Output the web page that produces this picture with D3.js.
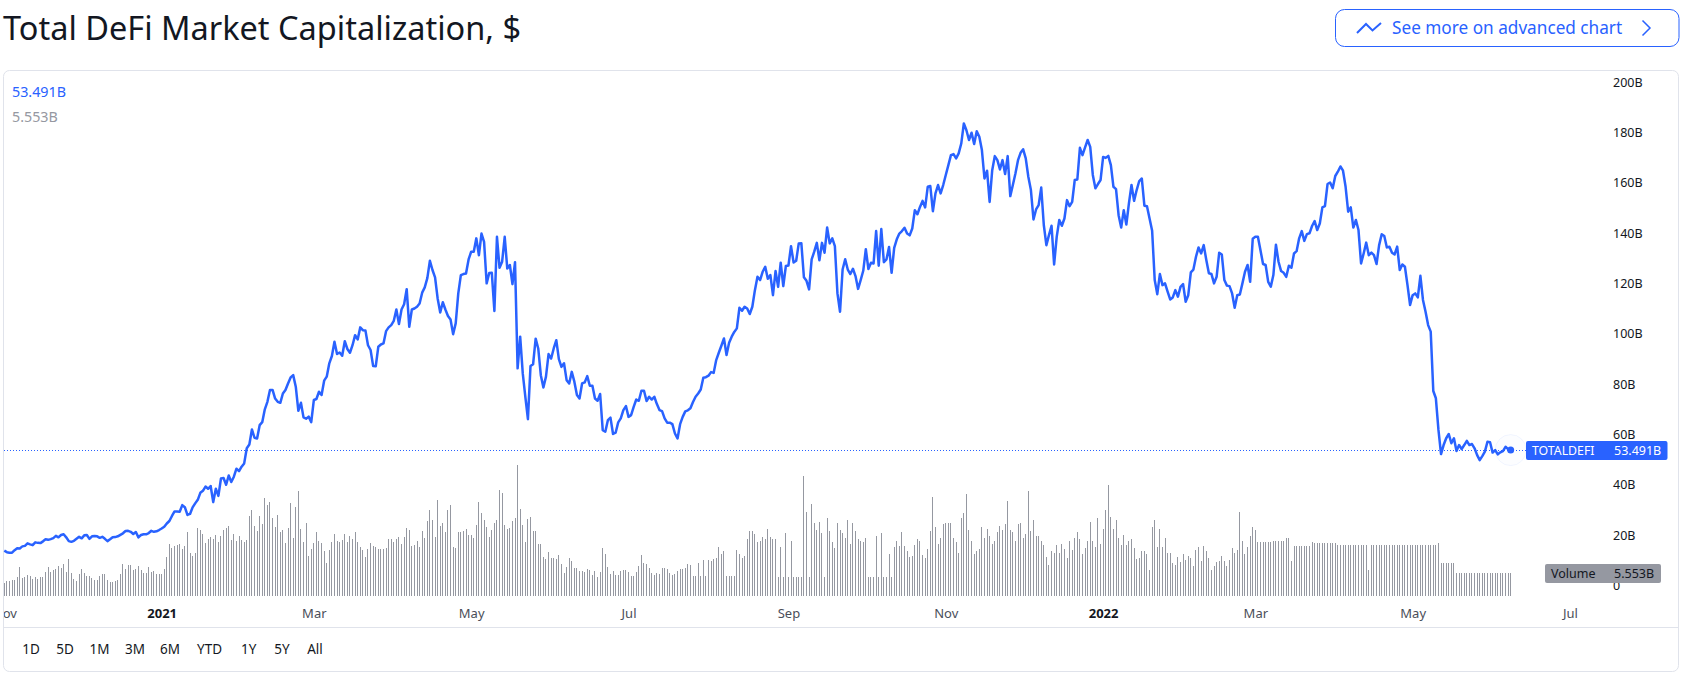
<!DOCTYPE html>
<html>
<head>
<meta charset="utf-8">
<title>Total DeFi Market Capitalization</title>
<script src="https://cdn.jsdelivr.net/npm/d3@7/dist/d3.min.js"></script>
<style>
html,body{margin:0;padding:0;background:#fff;overflow:hidden}
svg{display:block}
text{font-family:"Noto Sans",sans-serif}
</style>
</head>
<body>
<svg id="chart" width="1685" height="679"></svg>
<script>
// Data: daily, starting 2020-11-01, values in billions of dollars
const startDate = "2020-11-01";
const marketCap = [
13.5,12.9,12.7,12.7,13.7,14.5,14.4,15.2,15.4,16.4,
16.0,15.7,16.8,16.6,16.5,17.2,18.0,17.8,18.1,18.5,
19.4,18.8,19.7,20.0,18.8,17.3,17.0,17.4,18.2,19.0,
18.4,19.6,19.7,18.2,19.2,19.3,19.2,18.6,19.0,18.2,
17.3,18.0,18.8,18.9,19.2,19.8,20.4,21.3,21.4,21.0,
20.1,20.9,18.8,19.7,20.0,20.0,20.5,21.4,21.0,21.2,
21.7,22.3,23.0,24.3,25.3,27.3,29.1,29.1,29.0,31.6,
30.8,27.7,28.1,30.7,32.3,33.7,36.5,37.3,39.0,38.1,
39.2,32.8,38.1,35.3,42.2,42.4,39.7,43.4,40.8,42.9,
46.1,45.1,46.9,48.2,54.2,55.7,61.7,58.4,58.1,63.4,
64.6,69.7,72.7,77.4,77.4,74.0,72.7,72.3,76.0,77.4,
80.0,82.4,83.3,78.7,69.1,72.3,66.5,66.0,66.8,64.6,
73.4,73.8,76.7,
75.4,81.1,82.7,88.0,90.9,96.6,91.7,92.3,91.0,96.8,
93.7,92.2,95.2,99.2,97.5,102.3,101.2,101.1,95.2,93.3,
86.9,86.8,94.6,95.5,95.9,100.8,102.3,103.2,104.9,109.4,
103.6,109.4,111.5,117.5,102.5,109.4,109.8,110.5,111.8,116.1,
118.2,121.9,128.8,125.1,122.2,113.8,108.2,112.3,109.4,106.8,
105.4,99.6,103.9,115.8,123.1,123.5,123.7,129.3,132.4,132.4,
137.7,131.0,139.6,136.3,119.8,123.9,124.0,108.8,138.3,126.0,
128.4,138.3,125.7,127.1,119.5,128.2,86.0,98.6,84.0,74.7,
65.8,86.9,87.6,97.8,93.9,83.3,78.4,82.7,91.7,89.9,
93.9,97.2,89.7,86.6,88.0,81.3,80.0,84.6,80.7,75.4,
74.0,80.0,80.4,82.9,79.1,79.1,74.0,73.1,75.8,61.4,
60.8,65.4,66.4,59.9,60.4,64.5,66.1,69.4,71.0,66.7,
67.4,70.7,73.6,73.1,
77.1,77.1,73.0,74.7,73.6,74.7,71.8,69.4,69.0,66.1,
64.4,64.4,63.8,60.1,58.1,63.8,66.7,68.9,69.3,70.1,
72.6,74.7,76.0,77.6,82.3,82.5,83.1,84.5,84.2,89.3,
92.2,95.0,97.9,91.3,96.2,98.6,100.5,101.9,110.1,108.9,
110.5,109.8,107.6,110.5,117.1,122.4,121.1,124.4,126.4,121.6,
123.1,115.1,124.7,118.4,128.0,118.7,126.7,126.9,134.6,128.1,
128.8,135.7,135.8,122.2,120.8,117.4,129.3,132.4,135.9,129.0,
135.9,132.0,142.0,135.7,137.7,134.6,115.8,108.5,125.3,129.4,
125.3,123.5,125.6,122.7,117.6,121.1,124.8,133.4,125.5,128.0,
127.7,140.6,126.8,141.4,128.2,129.3,134.3,124.0,133.9,137.3,
139.6,140.6,141.9,139.6,138.9,141.6,148.9,147.3,150.2,152.6,
150.0,
158.2,158.5,148.5,155.6,158.9,155.6,158.9,162.9,166.8,170.8,
171.2,169.5,171.5,175.4,183.4,180.7,176.8,179.7,175.2,180.3,
178.1,172.8,161.5,164.6,152.2,164.8,170.4,168.8,165.1,168.8,
163.3,170.4,154.5,158.9,163.5,168.8,171.7,173.1,169.5,162.2,
156.9,145.2,149.2,150.9,157.9,143.0,135.0,139.0,142.7,127.3,
138.3,145.0,142.7,145.6,152.9,150.5,152.2,160.9,161.1,173.7,
170.8,173.9,176.8,174.1,162.9,157.6,159.3,160.9,170.1,169.7,
170.5,166.8,158.2,157.3,146.9,142.0,148.9,143.2,151.6,158.9,
152.6,156.9,160.5,161.5,150.7,150.5,145.6,140.7,121.1,115.5,
123.5,119.1,119.8,116.5,113.4,114.2,117.1,114.5,118.4,119.5,
112.5,115.1,124.2,125.3,130.4,134.1,131.7,135.0,129.1,123.8,
123.5,119.8,122.4,132.0,
131.3,121.1,118.9,118.7,115.8,110.1,115.1,115.4,119.8,124.4,
127.1,120.4,137.5,138.3,138.3,133.0,127.5,127.1,120.4,118.5,
123.1,135.2,128.4,124.7,124.0,122.4,126.8,126.0,131.7,132.6,
137.7,140.6,136.7,139.4,139.7,142.6,144.6,141.0,143.6,150.0,
150.5,159.3,159.9,157.6,162.5,164.2,166.3,164.6,158.2,148.3,
150.0,142.0,145.0,141.0,127.7,131.7,136.0,131.0,132.0,131.0,
127.5,135.0,139.3,138.6,134.1,134.4,132.0,131.3,134.4,125.1,
127.3,126.4,119.1,111.2,115.1,115.8,114.2,122.8,113.2,108.5,
103.2,100.6,77.0,74.1,61.5,51.9,55.5,58.2,59.9,56.2,
58.2,53.1,55.5,53.9,55.5,57.2,55.5,55.9,54.2,51.5,
49.5,51.1,52.9,56.8,56.6,52.5,53.5,51.8,52.6,53.1,
54.8,53.9,53.491
];
const volume = [
3.1,3.6,3.6,3.9,3.9,4.5,7.0,4.4,4.6,5.1,
4.8,4.1,4.6,4.1,4.6,4.6,5.8,7.0,5.8,6.3,
6.5,7.2,6.8,7.7,5.8,8.9,5.6,4.1,3.6,5.3,
6.5,5.6,4.8,4.8,4.3,3.9,3.9,4.8,5.3,5.3,
3.9,3.4,3.4,3.6,3.9,5.3,7.7,6.5,7.5,7.5,
6.3,6.5,7.2,6.3,5.6,5.6,7.0,5.8,6.0,5.3,
5.3,5.3,6.5,9.4,12.6,11.6,12.1,12.3,12.6,11.4,
12.1,15.5,10.4,9.7,10.4,16.4,15.9,15.0,12.8,13.8,
14.3,13.8,14.7,13.0,14.5,15.9,16.4,16.9,13.5,15.0,
13.3,14.5,13.5,13.0,13.5,19.3,20.8,16.9,15.7,19.3,
17.4,23.7,22.0,22.7,18.8,16.7,19.6,15.5,15.9,12.8,
16.4,22.5,14.0,21.5,25.4,16.2,13.0,17.6,9.7,11.4,
12.8,15.5,13.3,
12.8,10.9,8.0,11.1,13.0,15.0,13.3,13.0,13.5,15.0,
13.0,14.5,13.8,15.5,13.0,11.8,11.1,9.4,11.4,12.8,
12.1,11.8,11.4,11.4,11.4,11.6,13.8,13.8,13.0,13.8,
14.3,12.6,14.3,16.4,15.9,12.1,12.3,13.3,11.8,15.7,
14.0,18.1,20.8,18.4,14.3,23.2,16.9,17.6,15.5,20.8,
22.0,11.8,11.6,15.5,15.5,15.7,16.2,14.7,14.7,14.0,
17.1,22.7,20.0,18.4,16.7,14.3,15.9,17.6,18.4,25.6,
24.9,17.1,16.2,16.4,18.1,18.8,31.6,21.0,17.1,13.0,
18.6,19.1,15.7,15.7,12.6,12.6,9.4,8.9,10.6,9.2,
9.2,8.9,9.9,7.7,5.6,7.0,9.2,8.5,6.8,6.8,
6.0,6.0,5.8,6.5,6.3,5.1,6.0,4.6,5.8,11.6,
10.1,7.0,5.3,6.0,5.1,5.1,6.0,6.3,6.3,5.8,
4.8,4.8,5.8,7.2,
9.9,8.0,7.7,6.8,5.6,5.1,5.6,5.3,6.8,6.8,
6.5,5.6,5.1,5.3,6.0,6.5,6.5,6.8,7.7,7.5,
4.8,4.8,8.0,4.8,8.7,4.8,8.7,8.5,8.9,9.2,
11.8,10.1,10.9,4.8,4.8,4.8,4.8,11.1,10.1,9.2,
9.7,13.8,15.7,15.7,15.0,13.0,13.3,14.3,13.8,16.2,
14.3,13.8,13.8,4.6,11.8,4.6,15.2,4.6,13.3,4.6,
4.6,4.6,4.6,29.0,20.3,4.6,22.2,17.6,15.9,17.9,
15.2,4.6,18.8,15.7,13.0,11.6,17.6,15.9,15.2,14.0,
18.4,12.6,17.6,15.7,13.8,13.3,13.0,14.0,4.6,4.6,
4.6,14.5,4.6,15.2,4.6,4.6,10.1,4.6,11.8,13.3,
12.1,15.5,12.1,10.9,9.4,9.7,12.3,13.8,13.3,9.9,
9.2,11.4,15.7,23.9,16.7,12.6,14.0,17.4,17.6,17.6,
17.6,14.0,13.0,10.4,
18.8,20.0,24.6,15.9,13.2,10.1,10.8,11.3,16.6,13.9,
16.3,14.4,12.5,13.4,15.4,16.8,15.9,17.3,22.9,15.9,
15.4,13.2,17.3,17.6,13.9,14.9,25.3,15.6,18.3,14.4,
14.4,13.2,12.2,9.3,7.4,10.8,10.5,12.2,10.3,12.5,
11.3,9.1,13.2,11.0,13.9,15.4,13.7,10.1,11.5,13.4,
17.8,13.4,11.8,18.8,12.5,16.1,20.7,26.7,19.0,16.3,
18.3,13.9,12.2,
14.7,12.2,13.4,13.7,11.5,8.9,9.1,10.8,10.8,10.1,
6.4,16.6,18.3,11.8,16.3,11.8,13.9,10.5,10.3,7.9,
7.6,9.3,8.1,10.1,8.6,9.6,9.1,7.2,11.0,11.8,
8.4,12.0,10.8,9.1,6.2,7.2,8.1,8.4,9.6,8.4,
7.2,8.6,11.5,10.5,11.0,20.2,13.4,10.1,11.8,14.4,
16.6,15.9,13.0,13.0,13.0,13.0,13.0,13.0,13.2,13.2,
13.2,13.2,13.2,13.9,13.9,8.4,12.0,12.0,12.0,12.0,
12.0,12.0,12.0,13.0,12.7,12.7,12.7,12.7,12.7,12.7,
12.7,12.7,12.7,12.2,12.2,12.2,12.2,12.2,12.2,12.2,
12.2,12.2,12.2,12.2,12.2,6.2,12.2,12.2,12.2,12.2,
12.2,12.2,12.2,12.2,12.2,12.2,12.2,12.2,12.2,12.2,
12.2,12.2,12.2,12.2,12.2,12.2,12.2,12.2,12.2,12.2,
12.2,12.2,12.7,7.9,7.9,7.9,7.9,7.9,7.9,5.553,
5.553,5.553,5.553,5.553,5.553,5.553,5.553,5.553,5.553,5.553,
5.553,5.553,5.553,5.553,5.553,5.553,5.553,5.553,5.553,5.553,
5.553
];
const priceTicks = [0,20,40,60,80,100,120,140,160,180,200];
const timeTicks = [
  {date:"2020-11-01",label:"Nov"},{date:"2021-01-01",label:"2021",bold:true},
  {date:"2021-03-01",label:"Mar"},{date:"2021-05-01",label:"May"},
  {date:"2021-07-01",label:"Jul"},{date:"2021-09-01",label:"Sep"},
  {date:"2021-11-01",label:"Nov"},{date:"2022-01-01",label:"2022",bold:true},
  {date:"2022-03-01",label:"Mar"},{date:"2022-05-01",label:"May"},
  {date:"2022-07-01",label:"Jul"}
];
const rangeButtons = [["1D",31],["5D",65],["1M",99.6],["3M",135],["6M",170],["YTD",209.6],["1Y",248.6],["5Y",282],["All",315]];
const lastPriceLabel = "53.491B", lastVolumeLabel = "5.553B";

const BLUE = "#2962ff", GREY = "#9598a1", INK = "#131722", RULE = "#e0e3eb";
const svg = d3.select("#chart");
const parse = d3.utcParse("%Y-%m-%d");
const dayAt = i => d3.utcDay.offset(parse(startDate), i);

const x = d3.scaleUtc().domain([parse("2020-11-01"), parse("2022-07-01")]).range([4.3, 1570]);
const y = d3.scaleLinear().domain([0, 200]).range([584.6, 81.7]);
const yVol = d3.scaleLinear().domain([0, 32]).range([596, 596 - 32 * 4.14]);

// Title
svg.append("text").attr("x", 3).attr("y", 40).attr("fill", INK)
  .attr("font-size", 32.5).text("Total DeFi Market Capitalization, $");

// Button
svg.append("rect").attr("x", 1335.5).attr("y", 9.5).attr("width", 343.5).attr("height", 37)
  .attr("rx", 9).attr("fill", "#fff").attr("stroke", BLUE);
svg.append("path").attr("d", "M1357 33L1366 24L1372.5 30.500L1381 23").attr("fill", "none").attr("stroke", BLUE).attr("stroke-width", 2);
svg.append("text").attr("x", 1392).attr("y", 33.500).attr("fill", BLUE).attr("font-size", 17.2).text("See more on advanced chart");
svg.append("path").attr("d", "M1642.500 20.500L1650 28L1642.500 35.500").attr("fill", "none").attr("stroke", BLUE).attr("stroke-width", 1.5);

// Panel
svg.append("rect").attr("x", 3.5).attr("y", 70.5).attr("width", 1675).attr("height", 601)
  .attr("rx", 6).attr("fill", "#fff").attr("stroke", RULE);
svg.append("line").attr("x1", 4).attr("x2", 1678).attr("y1", 627.5).attr("y2", 627.5).attr("stroke", RULE);
svg.append("defs").append("clipPath").attr("id", "plot").append("rect")
  .attr("x", 4).attr("y", 71).attr("width", 1674).attr("height", 556);

// Volume bars
svg.append("g").attr("shape-rendering", "crispEdges").selectAll("rect").data(volume).join("rect")
  .attr("x", (d, i) => Math.floor(x(dayAt(i))))
  .attr("width", 1)
  .attr("y", d => yVol(d))
  .attr("height", d => yVol(0) - yVol(d))
  .attr("fill", GREY);

// Last price dotted line
const lastValue = marketCap[marketCap.length - 1];
svg.append("line").attr("x1", 4).attr("x2", 1526)
  .attr("y1", Math.round(y(lastValue)) + .5).attr("y2", Math.round(y(lastValue)) + .5)
  .attr("stroke", BLUE).attr("stroke-dasharray", "1 2");

// Price line
const line = d3.line().x((d, i) => x(dayAt(i))).y(d => y(d)).curve(d3.curveLinear);
svg.append("path").datum(marketCap).attr("d", line).attr("fill", "none")
  .attr("stroke", BLUE).attr("stroke-width", 2.5).attr("stroke-linejoin", "round");

// Last point
const lastX = x(dayAt(marketCap.length - 1));
svg.append("circle").attr("cx", lastX).attr("cy", y(lastValue)).attr("r", 15.5)
  .attr("fill", BLUE).attr("fill-opacity", .01).attr("stroke", BLUE).attr("stroke-opacity", .06);
svg.append("circle").attr("cx", lastX).attr("cy", y(lastValue)).attr("r", 3.5).attr("fill", BLUE);

// Y axis
const yAxis = svg.append("g").attr("transform", "translate(1613,0.7)")
  .call(d3.axisRight(y).tickValues(priceTicks).tickSize(0).tickPadding(0).tickFormat(d => d === 0 ? "0" : d + "B"));
yAxis.select(".domain").remove();
yAxis.selectAll("text").style("font-family", '"Noto Sans",sans-serif').attr("font-size", 12.5).attr("fill", INK);

// X axis
const tickDates = timeTicks.map(t => parse(t.date));
const xAxis = svg.append("g").attr("clip-path", "url(#plot)").append("g").attr("transform", "translate(0,613)")
  .call(d3.axisBottom(x).tickValues(tickDates).tickSize(0).tickPadding(0)
    .tickFormat((d, i) => timeTicks[i].label));
xAxis.select(".domain").remove();
xAxis.selectAll("text").attr("dy", "0.35em").attr("y", 0)
  .style("font-family", '"Noto Sans",sans-serif')
  .attr("font-size", 13).attr("fill", "#4a4e59")
  .attr("font-weight", (d, i) => timeTicks[i].bold ? 700 : 400)
  .filter((d, i) => timeTicks[i].bold).attr("fill", INK);

// Legend values
svg.append("text").attr("x", 12).attr("y", 91.500).attr("dy", "0.35em").attr("fill", BLUE).attr("font-size", 14.3).text(lastPriceLabel);
svg.append("text").attr("x", 12).attr("y", 116.500).attr("dy", "0.35em").attr("fill", GREY).attr("font-size", 14.3).text(lastVolumeLabel);

// Price tag
svg.append("rect").attr("x", 1526).attr("y", 441).attr("width", 141.5).attr("height", 19).attr("rx", 2).attr("fill", BLUE);
svg.append("text").attr("x", 1532).attr("y", 450.5).attr("dy", "0.35em").attr("fill", "#fff").attr("font-size", 12.3).text("TOTALDEFI");
svg.append("text").attr("x", 1614).attr("y", 450.5).attr("dy", "0.35em").attr("fill", "#fff").attr("font-size", 12.5).text(lastPriceLabel);

// Volume tag
svg.append("rect").attr("x", 1545).attr("y", 564).attr("width", 116).attr("height", 19).attr("rx", 2).attr("fill", GREY);
svg.append("text").attr("x", 1551).attr("y", 573.5).attr("dy", "0.35em").attr("fill", INK).attr("font-size", 12.5).text("Volume");
svg.append("text").attr("x", 1614).attr("y", 573.5).attr("dy", "0.35em").attr("fill", INK).attr("font-size", 12.5).text(lastVolumeLabel);

// Range buttons
svg.append("g").selectAll("text").data(rangeButtons).join("text")
  .attr("x", d => d[1]).attr("y", 649.5).attr("dy", "0.35em").attr("text-anchor", "middle")
  .attr("font-size", 13.5).attr("fill", INK).text(d => d[0]);
</script>
</body>
</html>
